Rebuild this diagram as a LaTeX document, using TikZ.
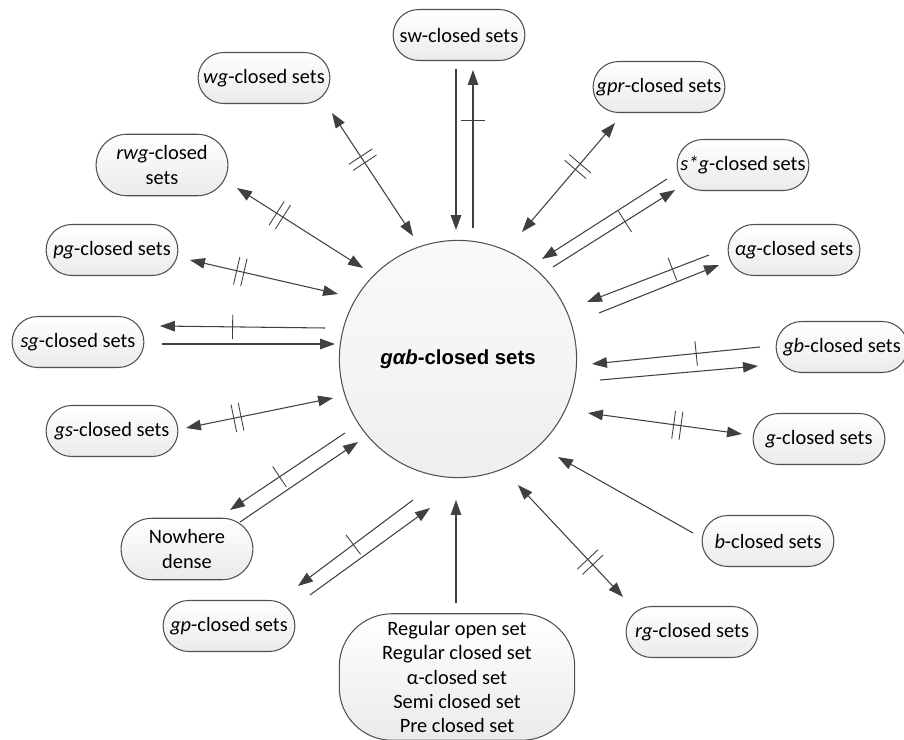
\documentclass[tikz,border=0pt]{standalone}
\usepackage{fontspec}
\setmainfont{Carlito}
\newfontfamily\hubfont{Liberation Sans}
\usetikzlibrary{arrows.meta,decorations.markings,shapes.misc}
\definecolor{edge}{RGB}{64,64,64}
\definecolor{rim}{RGB}{80,80,80}

\begin{document}
\begin{tikzpicture}[
    x=0.02cm, y=-0.02cm,
    >={Triangle[length=8.5pt,width=6pt]},
    font=\fontsize{11.6}{13.8}\selectfont,
    setbox/.style={
        rounded rectangle,
        draw=rim,
        line width=0.6pt,
        top color=white,
        bottom color=gray!16,
        minimum width=77pt,
        minimum height=29pt,
        inner sep=1pt,
        align=center
    },
    twoline/.style={
        setbox,
        minimum height=35pt
    },
    bigset/.style={
        rectangle,
        rounded corners=30pt,
        draw=rim,
        line width=0.6pt,
        top color=white,
        bottom color=gray!16,
        minimum width=134pt,
        minimum height=72pt,
        inner sep=1pt,
        align=center
    },
    core/.style={
        circle,
        draw=rim,
        line width=0.6pt,
        top color=gray!4,
        bottom color=gray!13,
        minimum size=135pt,
        inner sep=0pt
    },
    link/.style={draw=edge, line width=0.6pt},
    nimp/.style={postaction={decorate, decoration={markings,
        mark=at position #1 with {\draw[-, draw=edge, line width=0.5pt] (0,-7pt) -- (0,7pt);}}}},
    niff/.style={postaction={decorate, decoration={markings,
        mark=at position #1 with {\draw[-, draw=edge, line width=0.5pt] (-2.1pt,-8pt) -- (-2.1pt,8pt) (2.1pt,-8pt) -- (2.1pt,8pt);}}}}
]
\useasboundingbox (0,0) rectangle (904,740);

% Centre
\node[core] (gab) at (458,359) {\hubfont\bfseries\textit{gαb}-closed sets};

% Sets round it
\node[setbox] (sw) at (459,35) {sw-closed sets};
\node[setbox] (wg) at (264,78) {\textit{wg}-closed sets};
\node[twoline] (rwg) at (162,165) {\textit{rwg}-closed\\sets};
\node[setbox] (pg) at (112,250) {\textit{pg}-closed sets};
\node[setbox] (sg) at (78,342) {\textit{sg}-closed sets};
\node[setbox] (gs) at (112,431) {\textit{gs}-closed sets};
\node[twoline] (nd) at (187,549) {Nowhere\\dense};
\node[setbox] (gp) at (229,626) {\textit{gp}-closed sets};
\node[bigset] (reg) at (457,677) {Regular open set\\Regular closed set\\α-closed set\\Semi closed set\\Pre closed set};
\node[setbox] (rg) at (692,632) {\textit{rg}-closed sets};
\node[setbox] (b) at (768,541) {\textit{b}-closed sets};
\node[setbox] (g) at (819,439) {\textit{g}-closed sets};
\node[setbox] (gb) at (842,347) {\textit{gb}-closed sets};
\node[setbox] (ag) at (794,250) {\textit{αg}-closed sets};
\node[setbox] (sstarg) at (743,165) {\textit{s*g}-closed sets};
\node[setbox] (gpr) at (659,87) {\textit{gpr}-closed sets};

% Arrow ends
\coordinate (wg-o) at (332,113);   \coordinate (wg-i) at (413,236);
\coordinate (sw-a) at (456,69);    \coordinate (sw-b) at (456,230);
\coordinate (sw-c) at (473,228);   \coordinate (sw-d) at (473,70);
\coordinate (gpr-i) at (522,232);  \coordinate (gpr-o) at (615,123);
\coordinate (sg1) at (667,179);    \coordinate (sg2) at (542,259);
\coordinate (sg3) at (553,267);    \coordinate (sg4) at (675,190);
\coordinate (ag1) at (709,255);    \coordinate (ag2) at (587,302);
\coordinate (ag3) at (599,313);    \coordinate (ag4) at (719,265);
\coordinate (gb1) at (760,347);    \coordinate (gb2) at (592,364);
\coordinate (gb3) at (600,380);    \coordinate (gb4) at (758,366);
\coordinate (g-i) at (588,413);    \coordinate (g-o) at (742,434);
\coordinate (b-o) at (693,533);    \coordinate (b-i) at (558,457);
\coordinate (rg-i) at (518,485);   \coordinate (rg-o) at (623,597);
\coordinate (reg-o) at (456,603);  \coordinate (reg-i) at (456,500);
\coordinate (gp1) at (310,595);    \coordinate (gp2) at (430,508);
\coordinate (gp3) at (413,500);    \coordinate (gp4) at (298,586);
\coordinate (nd1) at (345,433);    \coordinate (nd2) at (230,510);
\coordinate (nd3) at (240,522);    \coordinate (nd4) at (358,442);
\coordinate (gs-o) at (186,428);   \coordinate (gs-i) at (333,398);
\coordinate (sg-a) at (325,328);   \coordinate (sg-b) at (160,326);
\coordinate (sg-c) at (162,344);   \coordinate (sg-d) at (335,344);
\coordinate (pg-o) at (190,260);   \coordinate (pg-i) at (338,294);
\coordinate (rwg-o) at (237,188);  \coordinate (rwg-i) at (363,268);

% Connections
\draw[link, <->, niff=0.38] (wg-o) -- (wg-i);
\draw[link, ->] (sw-a) -- (sw-b);
\draw[link, ->, nimp=0.68] (sw-c) -- (sw-d);
\draw[link, <->, niff=0.6] (gpr-i) -- (gpr-o);
\draw[link, ->] (sg1) -- (sg2);
\draw[link, ->, nimp=0.59] (sg3) -- (sg4);
\draw[link, ->, nimp=0.3] (ag1) -- (ag2);
\draw[link, ->] (ag3) -- (ag4);
\draw[link, ->, nimp=0.38] (gb1) -- (gb2);
\draw[link, ->] (gb3) -- (gb4);
\draw[link, <->, niff=0.58] (g-i) -- (g-o);
\draw[link, ->] (b-o) -- (b-i);
\draw[link, <->, niff=0.69] (rg-i) -- (rg-o);
\draw[link, ->] (reg-o) -- (reg-i);
\draw[link, ->] (gp1) -- (gp2);
\draw[link, ->, nimp=0.52] (gp3) -- (gp4);
\draw[link, ->, nimp=0.57] (nd1) -- (nd2);
\draw[link, ->] (nd3) -- (nd4);
\draw[link, <->, niff=0.35] (gs-o) -- (gs-i);
\draw[link, ->, nimp=0.56] (sg-a) -- (sg-b);
\draw[link, ->] (sg-c) -- (sg-d);
\draw[link, <->, niff=0.34] (pg-o) -- (pg-i);
\draw[link, <->, niff=0.34] (rwg-o) -- (rwg-i);

\end{tikzpicture}
\end{document}
